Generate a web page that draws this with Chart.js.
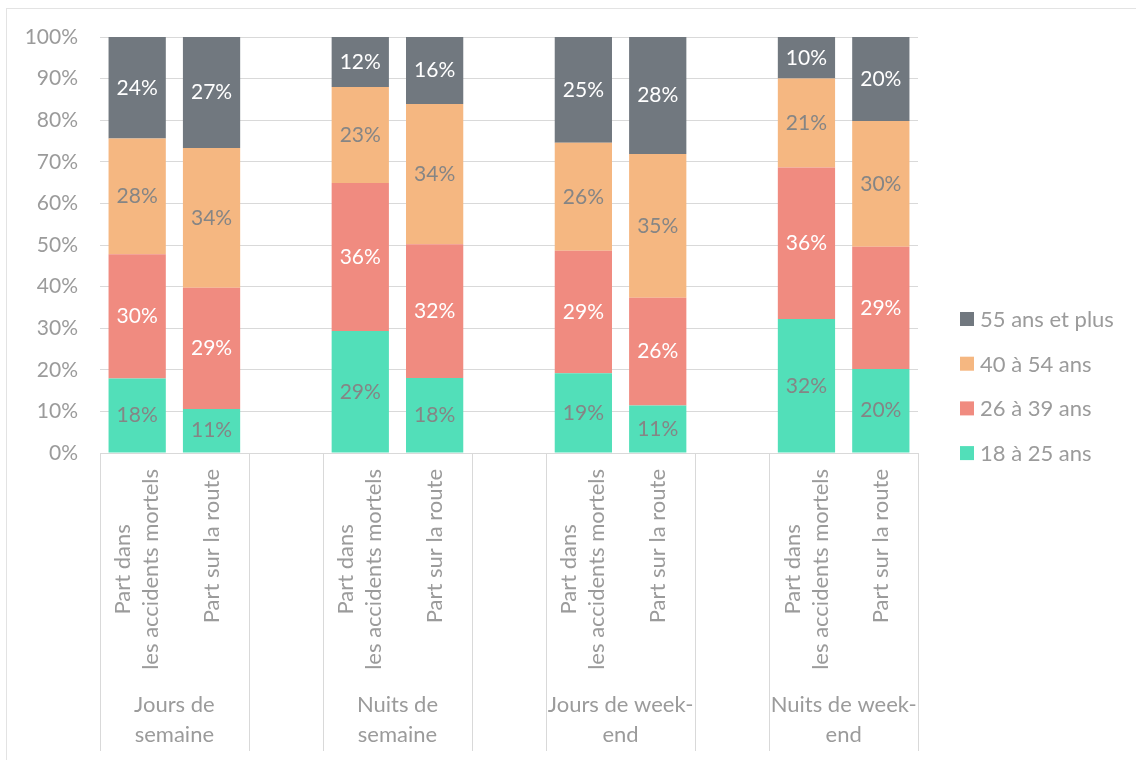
<!DOCTYPE html>
<html>
<head>
<meta charset="utf-8">
<script src="https://cdn.jsdelivr.net/npm/chart.js@4.4.0/dist/chart.umd.min.js"></script>
<style>
  html, body { margin: 0; padding: 0; background: #fff; }
  #wrap { position: relative; width: 1136px; height: 760px; }
  #frame { position: absolute; left: 6px; top: 8px; right: -2px; bottom: -2px; border: 1px solid #e3e3e3; }
  canvas { position: absolute; left: 0; top: 0; }
</style>
</head>
<body>
<div id="wrap">
  <div id="frame"></div>
  <canvas id="chart" width="1136" height="760"></canvas>
</div>
<script>
// categories (empty ones are the gaps between groups)
const categories = [
  ['Part dans', 'les accidents mortels'], ['Part sur la route'], [''],
  ['Part dans', 'les accidents mortels'], ['Part sur la route'], [''],
  ['Part dans', 'les accidents mortels'], ['Part sur la route'], [''],
  ['Part dans', 'les accidents mortels'], ['Part sur la route']
];
const groupLabels = [['Jours de', 'semaine'], ['Nuits de', 'semaine'], ['Jours de week-', 'end'], ['Nuits de week-', 'end']];
const groupOf = [0, 0, null, 1, 1, null, 2, 2, null, 3, 3];

const seriesNames = ['18 à 25 ans', '26 à 39 ans', '40 à 54 ans', '55 ans et plus'];
const age18_25  = [17.9, 10.6, null, 29.3, 18.0, null, 19.2, 11.4, null, 32.2, 20.2];
const age26_39  = [29.9, 29.1, null, 35.6, 32.2, null, 29.4, 25.9, null, 36.4, 29.4];
const age40_54  = [27.8, 33.6, null, 23.1, 33.7, null, 26.0, 34.6, null, 21.4, 30.2];
const age55plus = [24.4, 26.7, null, 12.0, 16.1, null, 25.4, 28.1, null, 10.0, 20.2];
const yTicks = [0, 10, 20, 30, 40, 50, 60, 70, 80, 90, 100];

const colors = ['#52dfb9', '#f08b80', '#f5b781', '#71787f'];
const labelColors = ['#858585', '#ffffff', '#858585', '#ffffff'];
const textGray = '#9b9b9b';
const gridGray = '#d9d9d9';
const FONT = 'Lato';

const seriesData = [age18_25, age26_39, age40_54, age55plus];

const barLabels = {
  id: 'barLabels',
  afterDatasetsDraw(chart) {
    const ctx = chart.ctx;
    ctx.save();
    ctx.font = '21px ' + FONT;
    ctx.textAlign = 'center';
    ctx.textBaseline = 'middle';
    chart.data.datasets.forEach((ds, di) => {
      chart.getDatasetMeta(di).data.forEach((bar, i) => {
        const v = ds.data[i];
        if (v == null) return;
        ctx.fillStyle = labelColors[di];
        ctx.fillText(Math.round(v) + '%', bar.x, (bar.y + bar.base) / 2);
      });
    });
    ctx.restore();
  }
};

const xLabels = {
  id: 'xLabels',
  afterDraw(chart) {
    const ctx = chart.ctx;
    const x = chart.scales.x;
    const area = chart.chartArea;
    const step = x.getPixelForValue(1) - x.getPixelForValue(0);
    ctx.save();
    ctx.font = '22px ' + FONT;
    ctx.fillStyle = textGray;
    // rotated category labels
    categories.forEach((lines, i) => {
      const cx = x.getPixelForValue(i);
      const maxW = Math.max(...lines.map(l => ctx.measureText(l).width));
      ctx.save();
      ctx.translate(cx, area.bottom + 16);
      ctx.rotate(-Math.PI / 2);
      ctx.textAlign = 'center';
      ctx.textBaseline = 'middle';
      lines.forEach((l, k) => {
        ctx.fillText(l, -maxW / 2, (k - (lines.length - 1) / 2) * 28);
      });
      ctx.restore();
    });
    // separators
    ctx.strokeStyle = gridGray;
    ctx.lineWidth = 1;
    const bottom = chart.height - 9;
    const drawSep = (px) => {
      ctx.beginPath();
      ctx.moveTo(Math.round(px) + 0.5, area.bottom);
      ctx.lineTo(Math.round(px) + 0.5, bottom);
      ctx.stroke();
    };
    drawSep(x.getPixelForValue(0) - step / 2);
    for (let i = 0; i < categories.length - 1; i++) {
      if (groupOf[i] !== groupOf[i + 1]) drawSep(x.getPixelForValue(i) + step / 2);
    }
    drawSep(x.getPixelForValue(categories.length - 1) + step / 2);
    // group labels
    ctx.textAlign = 'center';
    ctx.textBaseline = 'middle';
    groupLabels.forEach((lines, g) => {
      const idx = groupOf.map((v, i) => v === g ? i : -1).filter(i => i >= 0);
      const cx = (x.getPixelForValue(idx[0]) + x.getPixelForValue(idx[idx.length - 1])) / 2;
      lines.forEach((l, k) => ctx.fillText(l, cx, 705 + k * 30));
    });
    ctx.restore();
  }
};

const sideLegend = {
  id: 'sideLegend',
  afterDraw(chart) {
    const ctx = chart.ctx;
    const left = chart.chartArea.right + 42;
    ctx.save();
    ctx.font = '22px ' + FONT;
    ctx.textBaseline = 'middle';
    ctx.textAlign = 'left';
    for (let k = 0; k < seriesNames.length; k++) {
      const di = seriesNames.length - 1 - k;
      const cy = 319 + k * 44.7;
      ctx.fillStyle = colors[di];
      ctx.fillRect(left, cy - 7, 14, 14);
      ctx.fillStyle = textGray;
      ctx.fillText(seriesNames[di], left + 20, cy + 1);
    }
    ctx.restore();
  }
};

new Chart(document.getElementById('chart').getContext('2d'), {
  type: 'bar',
  data: {
    labels: categories,
    datasets: seriesNames.map((name, i) => ({
      label: name,
      data: seriesData[i],
      backgroundColor: colors[i],
      borderWidth: 0,
      categoryPercentage: 1,
      barPercentage: 0.77
    }))
  },
  options: {
    responsive: false,
    animation: false,
    layout: { padding: { left: 0, top: 37, right: 218, bottom: 307 } },
    plugins: { legend: { display: false }, tooltip: { enabled: false } },
    scales: {
      x: {
        stacked: true,
        grid: { display: false, drawTicks: false },
        border: { display: true, color: gridGray },
        ticks: { display: false }
      },
      y: {
        stacked: true,
        min: 0,
        max: 100,
        afterBuildTicks(s) { s.ticks = yTicks.map(v => ({ value: v })); },
        afterFit(s) { s.width = 100; },
        grid: { color: gridGray, drawTicks: false },
        border: { display: false },
        ticks: {
          padding: 22,
          color: textGray,
          font: { family: FONT, size: 21 },
          callback: v => v + '%'
        }
      }
    }
  },
  plugins: [barLabels, xLabels, sideLegend]
});
</script>
</body>
</html>
